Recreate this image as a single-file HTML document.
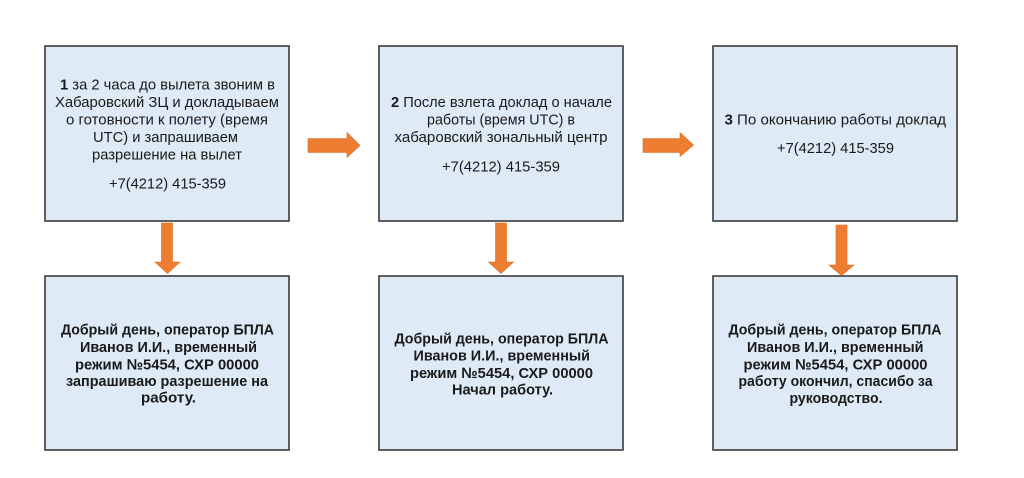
<!DOCTYPE html>
<html><head><meta charset="utf-8"><style>
html,body{margin:0;padding:0;background:#fff;}
svg{display:block;}
text{font-family:"Liberation Sans","DejaVu Sans",sans-serif;fill:#1a1a1a;}
.r{font-size:15px;}
.b{font-size:15px;font-weight:bold;}
</style></head><body>
<svg width="1024" height="478" viewBox="0 0 1024 478" xmlns="http://www.w3.org/2000/svg">
<rect width="1024" height="478" fill="#fff"/>
<g fill="#deeaf6" stroke="#454545" stroke-width="1.7">
<rect x="45" y="46" width="244" height="175"/>
<rect x="379" y="46" width="244" height="175"/>
<rect x="713" y="46" width="244" height="175"/>
<rect x="45" y="276" width="244" height="174"/>
<rect x="379" y="276" width="244" height="174"/>
<rect x="713" y="276" width="244" height="174"/>
</g>
<g fill="#ed7d31" stroke="#d96a20" stroke-width="0.6">
<polygon points="308,138.5 347,138.5 347,132.5 360,145.5 347,157.5 347,152.5 308,152.5"/>
<polygon points="643,138.5 680,138.5 680,132.5 693.5,145 680,156.5 680,152.5 643,152.5"/>
<polygon points="161.5,223 172.5,223 172.5,262 180,262 167.5,273.5 155,262 161.5,262"/>
<polygon points="495.5,223 506.5,223 506.5,262 513.5,262 501,273.5 488.5,262 495.5,262"/>
<polygon points="836,225 847,225 847,265 854,265 841.5,275.5 829,265 836,265"/>
</g>
<!-- Box 1 top -->
<text class="r" x="60" y="89.5" textLength="215" lengthAdjust="spacingAndGlyphs"><tspan font-weight="bold">1</tspan> за 2 часа до вылета звоним в</text>
<text class="r" x="55" y="107" textLength="224" lengthAdjust="spacingAndGlyphs">Хабаровский ЗЦ и докладываем</text>
<text class="r" x="66" y="124.5" textLength="202" lengthAdjust="spacingAndGlyphs">о готовности к полету (время</text>
<text class="r" x="93" y="142" textLength="145" lengthAdjust="spacingAndGlyphs">UTC) и запрашиваем</text>
<text class="r" x="92" y="159.3" textLength="150" lengthAdjust="spacingAndGlyphs">разрешение на вылет</text>
<text class="r" x="109" y="188.5" textLength="117" lengthAdjust="spacingAndGlyphs">+7(4212) 415-359</text>
<!-- Box 2 top -->
<text class="r" x="391" y="107" textLength="221" lengthAdjust="spacingAndGlyphs"><tspan font-weight="bold">2</tspan> После взлета доклад о начале</text>
<text class="r" x="427" y="124.5" textLength="148" lengthAdjust="spacingAndGlyphs">работы (время UTC) в</text>
<text class="r" x="394.5" y="142" textLength="213" lengthAdjust="spacingAndGlyphs">хабаровский зональный центр</text>
<text class="r" x="442" y="171.3" textLength="118" lengthAdjust="spacingAndGlyphs">+7(4212) 415-359</text>
<!-- Box 3 top -->
<text class="r" x="724.5" y="124.5" textLength="221.5" lengthAdjust="spacingAndGlyphs"><tspan font-weight="bold">3</tspan> По окончанию работы доклад</text>
<text class="r" x="777" y="153" textLength="117" lengthAdjust="spacingAndGlyphs">+7(4212) 415-359</text>
<!-- Box 1 bottom -->
<text class="b" x="61" y="334.5" textLength="213" lengthAdjust="spacingAndGlyphs">Добрый день, оператор БПЛА</text>
<text class="b" x="80" y="352" textLength="177" lengthAdjust="spacingAndGlyphs">Иванов И.И., временный</text>
<text class="b" x="75" y="369.3" textLength="184" lengthAdjust="spacingAndGlyphs">режим №5454, СХР 00000</text>
<text class="b" x="66" y="386" textLength="202" lengthAdjust="spacingAndGlyphs">запрашиваю разрешение на</text>
<text class="b" x="141" y="402.7" textLength="55" lengthAdjust="spacingAndGlyphs">работу.</text>
<!-- Box 2 bottom -->
<text class="b" x="394.5" y="343.5" textLength="214" lengthAdjust="spacingAndGlyphs">Добрый день, оператор БПЛА</text>
<text class="b" x="413.5" y="360.3" textLength="176.5" lengthAdjust="spacingAndGlyphs">Иванов И.И., временный</text>
<text class="b" x="410" y="378" textLength="183" lengthAdjust="spacingAndGlyphs">режим №5454, СХР 00000</text>
<text class="b" x="452" y="394.7" textLength="101" lengthAdjust="spacingAndGlyphs">Начал работу.</text>
<!-- Box 3 bottom -->
<text class="b" x="728.5" y="334.5" textLength="213" lengthAdjust="spacingAndGlyphs">Добрый день, оператор БПЛА</text>
<text class="b" x="747" y="352" textLength="176.5" lengthAdjust="spacingAndGlyphs">Иванов И.И., временный</text>
<text class="b" x="743.5" y="369.3" textLength="184" lengthAdjust="spacingAndGlyphs">режим №5454, СХР 00000</text>
<text class="b" x="738.5" y="386" textLength="194" lengthAdjust="spacingAndGlyphs">работу окончил, спасибо за</text>
<text class="b" x="789.5" y="403" textLength="93" lengthAdjust="spacingAndGlyphs">руководство.</text>
</svg>
</body></html>
